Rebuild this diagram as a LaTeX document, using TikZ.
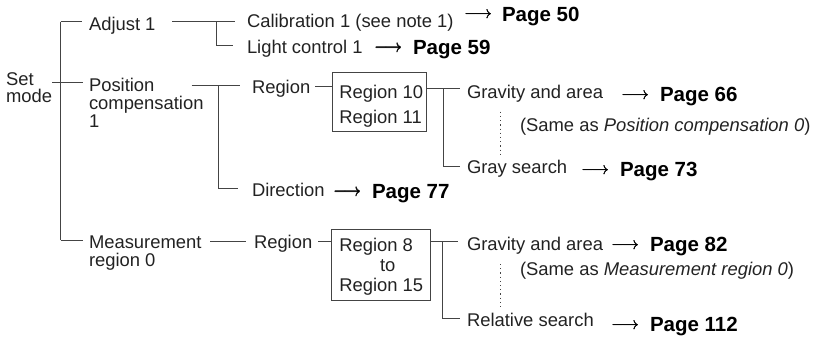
\documentclass[tikz,border=0pt]{standalone}
\usepackage{fontspec}
\setmainfont{Liberation Sans}
\definecolor{txtc}{HTML}{222222}
\definecolor{lnc}{HTML}{444444}
\tikzset{
 lbl/.style={anchor=base west, inner sep=0pt, outer sep=0pt, text=txtc,
   font=\fontsize{18.4}{17.7}\selectfont, align=left},
 pg/.style={anchor=base west, inner sep=0pt, outer sep=0pt, text=black,
   font=\fontsize{20.5}{20}\selectfont\bfseries},
 arr/.style={anchor=base west, inner sep=0pt, outer sep=0pt, text=black,
   font=\fontsize{19}{19}\selectfont},
 ln/.style={draw=lnc, line width=0.9pt},
 dots/.style={draw=lnc, line width=0.9pt, dash pattern=on 1.2pt off 3pt},
 boxr/.style={draw=lnc, line width=0.9pt, inner sep=0pt, outer sep=0pt, anchor=north west}
}
\newcommand{\arrowglyph}{\raisebox{2.3pt}{\rlap{$\longrightarrow$}\rlap{\kern0.35pt\raisebox{0.3pt}{$\longrightarrow$}}\kern0.35pt$\longrightarrow$}}
\begin{document}
\begin{tikzpicture}[x=1pt,y=-1pt]
\useasboundingbox (0,0) rectangle (815,338);
% ---- text nodes (multi-line nodes: base = last line) ----
\node[lbl] (set) at (6,102.7) {Set\\mode};
\node[lbl] (adj) at (89,30) {Adjust 1};
\node[lbl] (cal) at (247,27) {Calibration 1 (see note 1)};
\node[lbl] (light) at (247,53.5) {Light control 1};
\node[lbl] (pos) at (89,127.1) {Position\\compensation\\1};
\node[lbl] (reg1) at (252,93.5) {Region};
\node[boxr, minimum width=94.4pt, minimum height=59.4pt] (box1) at (332.3,72.3) {};
\node[lbl] (r10) at (339.3,98.3) {Region 10};
\node[lbl] (r11) at (339.3,123.3) {Region 11};
\node[lbl] (grav1) at (467,98.3) {Gravity and area};
\node[lbl] (note1) at (520,131.7) {(Same as \textit{Position compensation 0})};
\node[lbl] (gray1) at (467,173) {Gray search};
\node[lbl] (dir) at (252,196.7) {Direction};
\node[lbl] (meas) at (89,266) {Measurement\\region 0};
\node[lbl] (reg2) at (254,248.3) {Region};
\node[boxr, minimum width=99pt, minimum height=71.4pt] (box2) at (331.7,229.3) {};
\node[lbl] (r8) at (339.3,251.7) {Region 8};
\node[lbl] (rto) at (380,271.7) {to};
\node[lbl] (r15) at (339.3,291.7) {Region 15};
\node[lbl] (grav2) at (467,250) {Gravity and area};
\node[lbl] (note2) at (520,275) {(Same as \textit{Measurement region 0})};
\node[lbl] (rel) at (467,326) {Relative search};
% ---- arrows and pages ----
\node[arr] (a1) at (464,21) {\arrowglyph};
\node[pg] (p1) at (502,21) {Page 50};
\node[arr] (a2) at (374,54.3) {\arrowglyph};
\node[pg] (p2) at (413,54.3) {Page 59};
\node[arr] (a3) at (621,101.7) {\arrowglyph};
\node[pg] (p3) at (660,101.7) {Page 66};
\node[arr] (a4) at (581,176.7) {\arrowglyph};
\node[pg] (p4) at (620,176.7) {Page 73};
\node[arr] (a5) at (333,198.3) {\arrowglyph};
\node[pg] (p5) at (372,198.3) {Page 77};
\node[arr] (a6) at (611,251.7) {\arrowglyph};
\node[pg] (p6) at (650,251.7) {Page 82};
\node[arr] (a7) at (611,331.7) {\arrowglyph};
\node[pg] (p7) at (650,331.7) {Page 112};
% ---- trunk ----
\coordinate (tTop) at (60.7,21.7);
\coordinate (tMid) at (60.7,82.7);
\coordinate (tBot) at (60.7,240);
\draw[ln] (tTop) -- (tBot);
\draw[ln] (tTop) -- ([xshift=-7pt]adj.base west |- tTop);
\draw[ln] (set.east |- tMid) -- ([xshift=-6pt]pos.base west |- tMid);
\draw[ln] (tBot) -- ([xshift=-6pt]meas.base west |- tBot);
% ---- adjust group ----
\coordinate (aJ) at (216.3,21);
\coordinate (aB) at (216.3,45.7);
\draw[ln] ([xshift=17pt]adj.base east |- aJ) -- ([xshift=-12pt]cal.base west |- aJ);
\draw[ln] (aJ) -- (aB) -- ([xshift=-14pt]light.base west |- aB);
% ---- position group ----
\coordinate (pJ) at (218.5,85.5);
\coordinate (pB) at (218.5,188);
\draw[ln] ([xshift=-12pt]pos.east |- pJ) -- ([xshift=-12pt]reg1.base west |- pJ);
\draw[ln] (pJ) -- (pB) -- ([xshift=-14pt]dir.base west |- pB);
\coordinate (b1W) at ([yshift=-14.4pt]box1.north west);
\draw[ln] ([xshift=5pt]reg1.base east |- b1W) -- (b1W);
\coordinate (b1E) at ([yshift=-16pt]box1.north east);
\coordinate (gJ) at ([xshift=16.3pt]b1E);
\coordinate (gB) at (443,166);
\draw[ln] (b1E) -- ([xshift=-7pt]grav1.base west |- b1E);
\draw[ln] (gJ) -- (gB) -- ([xshift=-7pt]gray1.base west |- gB);
\coordinate (d1a) at (500.7,111.7);
\coordinate (d1b) at (500.7,155);
\draw[dots] (d1a) -- (d1b);
% ---- measurement group ----
\coordinate (b2W) at ([yshift=-12.4pt]box2.north west);
\draw[ln] ([xshift=9pt]meas.east |- b2W) -- ([xshift=-8pt]reg2.base west |- b2W);
\draw[ln] ([xshift=6pt]reg2.base east |- b2W) -- (b2W);
\coordinate (b2E) at ([yshift=-12.4pt]box2.north east);
\coordinate (hJ) at (442.3,241.7);
\coordinate (hB) at (442.3,318.3);
\draw[ln] (b2E) -- ([xshift=-9pt]grav2.base west |- b2E);
\draw[ln] (hJ) -- (hB) -- ([xshift=-7pt]rel.base west |- hB);
\coordinate (d2a) at (500.7,264);
\coordinate (d2b) at (500.7,306.7);
\draw[dots] (d2a) -- (d2b);
\end{tikzpicture}
\end{document}
